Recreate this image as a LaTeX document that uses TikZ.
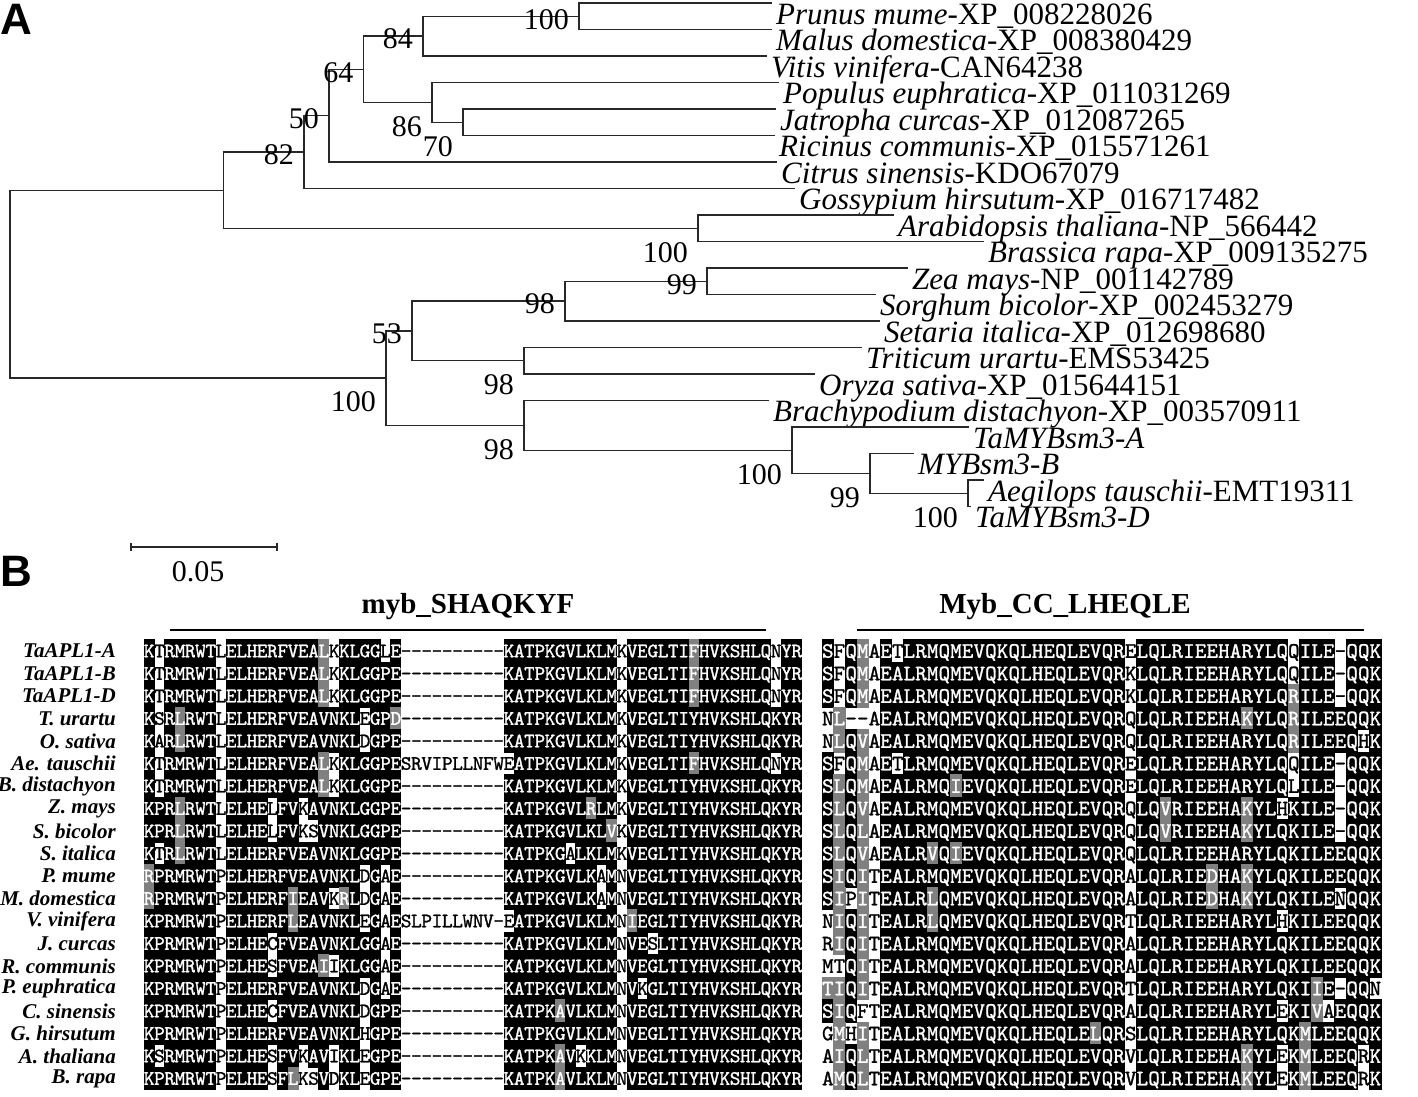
\documentclass[tikz,border=0pt]{standalone}
\usepackage{fontspec}
\setmainfont{Liberation Serif}
\newfontfamily\panelfont{Liberation Sans}
\newfontfamily\seqfamily[FakeBold=1.2]{lmmono10-regular.otf}
\usetikzlibrary{positioning}

\newcount\seqcol
\newif\ifseqgrey

\begin{document}
\begin{tikzpicture}[x=1pt, y=-1pt]
    \useasboundingbox (0,0) rectangle (1418,1096);
    \definecolor{branchcol}{RGB}{40,40,40}
    \definecolor{shadegrey}{RGB}{128,128,128}

    \tikzstyle{branch} = [draw=branchcol, line width=1.3pt]
    \tikzstyle{leaf} = [anchor=base west, inner sep=0pt, xshift=4pt, yshift=-21pt, font=\fontsize{31}{31}\selectfont]
    \tikzstyle{boot} = [anchor=east, inner sep=0pt, xshift=-10pt, font=\fontsize{30}{30}\selectfont]
    \tikzstyle{bootup} = [yshift=-3pt]
    \tikzstyle{bootdown} = [yshift=-24pt]
    \tikzstyle{panel} = [inner sep=0pt, font=\panelfont\bfseries\fontsize{44}{44}\selectfont]
    \tikzstyle{title} = [inner sep=0pt, font=\bfseries\fontsize{29}{29}\selectfont]
    \tikzstyle{rowname} = [anchor=east, inner sep=0pt, font=\bfseries\itshape\fontsize{21}{21}\selectfont]
    \tikzstyle{resl} = [inner sep=0pt, text height=12.5pt, text depth=0pt, font=\seqfamily\fontsize{20.5}{20.5}\selectfont]
    \tikzstyle{resr} = [inner sep=0pt, text height=13.5pt, text depth=0pt, font=\seqfamily\fontsize{22}{22}\selectfont]

    % one residue: lower case = white cell, * before = grey cell
    \def\seqcell#1{%
        \ifx#1-\def\cellbg{none}\def\celltxt{black}%
        \else\ifnum\lccode`#1=`#1 \def\cellbg{none}\def\celltxt{black}%
        \else\ifseqgrey\def\cellbg{shadegrey}\else\def\cellbg{black}\fi\def\celltxt{white}%
        \fi\fi
        \pgfmathsetmacro{\cx}{\seqx+\seqcol*\seqw}%
        \path[fill=\cellbg] (\cx-0.3,\ry-11.6) rectangle (\cx+\seqw+0.3,\ry+11.6);
        \node[\seqfont, text=\celltxt] (\seqblock-\r-\the\seqcol) at (\cx+\seqw/2,\ry) {\uppercase{#1}};%
    }
    \def\seqnext#1{%
        \ifx#1\relax\else
            \ifx#1*\seqgreytrue\else
                \seqcell{#1}\seqgreyfalse\advance\seqcol by 1
            \fi
            \expandafter\seqnext
        \fi}
    \def\seqrow#1#2#3#4#5{%
        \def\seqblock{#1}\def\seqx{#2}\def\seqw{#3}\def\seqfont{#4}%
        \seqcol=0 \seqgreyfalse
        \expandafter\seqnext#5\relax}

    % ---------- A: tree ----------
    \node[panel] (pA) at (16,19) {A};

    \foreach \i/\xe/\lab in {
        1/772/{\textit{Prunus mume}-XP\_008228026},
        2/772/{\textit{Malus domestica}-XP\_008380429},
        3/767/{\textit{Vitis vinifera}-CAN64238},
        4/779/{\textit{Populus euphratica}-XP\_011031269},
        5/776/{\textit{Jatropha curcas}-XP\_012087265},
        6/775/{\textit{Ricinus communis}-XP\_015571261},
        7/777/{\textit{Citrus sinensis}-KDO67079},
        8/795/{\textit{Gossypium hirsutum}-XP\_016717482},
        9/894/{\textit{Arabidopsis thaliana}-NP\_566442},
        10/984/{\textit{Brassica rapa}-XP\_009135275},
        11/908/{\textit{Zea mays}-NP\_001142789},
        12/876/{\textit{Sorghum bicolor}-XP\_002453279},
        13/880/{\textit{Setaria italica}-XP\_012698680},
        14/862/{\textit{Triticum urartu}-EMS53425},
        15/815/{\textit{Oryza sativa}-XP\_015644151},
        16/769/{\textit{Brachypodium distachyon}-XP\_003570911},
        17/969/{\textit{TaMYBsm3-A}},
        18/914/{\textit{MYBsm3-B}},
        19/984/{\textit{Aegilops tauschii}-EMT19311},
        20/971/{\textit{TaMYBsm3-D}}} {
        \pgfmathsetmacro{\ly}{3+26.5*(\i-1)}
        \coordinate (l\i) at (\xe,\ly);
        \node[leaf] (t\i) at (l\i) {\lab};
    }

    % inner nodes
    \coordinate (nA) at (10,284.1);
    \coordinate (nB) at (223.5,190.2);
    \coordinate (nC) at (304,152.1);
    \coordinate (nD) at (329,115.6);
    \coordinate (nE) at (363.5,69.3);
    \coordinate (nF) at (423,36.1);
    \coordinate (nH) at (579,16.3);
    \coordinate (nG) at (432,102.4);
    \coordinate (nI) at (463,122.3);
    \coordinate (nJ) at (698,228.3);
    \coordinate (nK) at (386,378.1);
    \coordinate (nL) at (412,330.9);
    \coordinate (nO) at (565,301.1);
    \coordinate (nQ) at (707,281.3);
    \coordinate (nP) at (524,360.8);
    \coordinate (nM) at (524,425.4);
    \coordinate (nN) at (792,450.2);
    \coordinate (nR) at (870,473.4);
    \coordinate (nS) at (968,493.3);

    \foreach \p/\c in {nA/nB, nA/nK, nB/nC, nB/nJ, nC/nD, nC/l8, nD/nE, nD/l7,
        nE/nF, nE/nG, nF/nH, nF/l3, nH/l1, nH/l2, nG/l4, nG/nI, nI/l5, nI/l6,
        nJ/l9, nJ/l10, nK/nL, nK/nM, nL/nO, nL/nP, nO/nQ, nO/l13, nQ/l11, nQ/l12,
        nP/l14, nP/l15, nM/l16, nM/nN, nN/l17, nN/nR, nR/l18, nR/nS, nS/l19, nS/l20}
        \draw[branch] (\p) |- (\c);

    % bootstrap values
    \foreach \n/\v/\s in {nH/100/up, nF/84/up, nE/64/up, nD/50/up, nC/82/up,
        nG/86/down, nI/70/down, nJ/100/down, nQ/99/up, nO/98/up, nL/53/up,
        nP/98/down, nK/100/down, nM/98/down, nN/100/down, nR/99/down, nS/100/down}
        \node[boot, boot\s] (bs-\n) at (\n) {\v};

    % scale bar
    \coordinate (sb1) at (131,547);
    \coordinate (sb2) at (277,547);
    \draw[branch] (sb1) -- (sb2);
    \draw[branch] ([yshift=4pt]sb1) -- ([yshift=-4pt]sb1);
    \draw[branch] ([yshift=4pt]sb2) -- ([yshift=-4pt]sb2);
    \node[inner sep=0pt, font=\fontsize{30}{30}\selectfont] (sbl) at (198,572) {0.05};

    % ---------- B: alignment ----------
    \node[panel] (pB) at (16,571) {B};
    \node[title] (ti-shaq) at (468,607) {myb\_SHAQKYF};
    \node[title] (ti-lheq) at (1065,607) {Myb\_CC\_LHEQLE};
    \coordinate (u1a) at (170,630);
    \coordinate (u1b) at (766,630);
    \coordinate (u2a) at (857,630);
    \coordinate (u2b) at (1364,630);
    \draw[line width=2.5pt] (u1a) -- (u1b);
    \draw[line width=2.5pt] (u2a) -- (u2b);

    \foreach \r/\name/\lseq/\rseq in {
        1/{TaAPL1-A}/KtRMRWTlELHERFVEA*LkKLGGlE----------KATPKGVLKLMkVEGLTI*FHVKSHLQnYR/SfQ*MaEtLRMQMEVQKQLHEQLEVQReLQLRIEEHARYLQqILE-QQK,
        2/{TaAPL1-B}/KtRMRWTlELHERFVEA*LkKLGGPE----------KATPKGVLKLMkVEGLTI*FHVKSHLQnYR/SfQ*MaEALRMQMEVQKQLHEQLEVQRkLQLRIEEHARYLQqILE-QQK,
        3/{TaAPL1-D}/KtRMRWTlELHERFVEA*LkKLGGPE----------KATPKGVLKLMkVEGLTI*FHVKSHLQnYR/SfQ*MaEALRMQMEVQKQLHEQLEVQRkLQLRIEEHARYLQ*RILE-QQK,
        4/{T. urartu}/KsR*LRWTlELHERFVEAVNKLeGP*D----------KATPKGVLKLMkVEGLTIYHVKSHLQKYR/n*L--aEALRMQMEVQKQLHEQLEVQRqLQLRIEEHA*KYLQ*RILEEQQK,
        5/{O. sativa}/KaR*LRWTlELHERFVEAVNKLdGPE----------KATPKGVLKLMkVEGLTIYHVKSHLQKYR/n*LQ*VaEALRMQMEVQKQLHEQLEVQRqLQLRIEEHARYLQ*RILEEQhK,
        6/{Ae. tauschii}/KtRMRWTlELHERFVEA*LkKLGGPEsrvipllnfweATPKGVLKLMkVEGLTI*FHVKSHLQnYR/SfQ*MaEtLRMQMEVQKQLHEQLEVQReLQLRIEEHARYLQqILE-QQK,
        7/{B. distachyon}/KtRMRWTlELHERFVEA*LkKLGGPE----------KATPKGVLKLMkVEGLTIYHVKSHLQKYR/S*LQ*MaEALRMQ*IEVQKQLHEQLEVQReLQLRIEEHARYLQlILE-QQK,
        8/{Z. mays}/KPR*LRWTlELHElFVkAVNKLGGPE----------KATPKGVL*RLMkVEGLTIYHVKSHLQKYR/S*LQ*VaEALRMQMEVQKQLHEQLEVQRqLQ*VRIEEHA*KYLhKILE-QQK,
        9/{S. bicolor}/KPR*LRWTlELHElFVksVNKLGGPE----------KATPKGVLKL*VkVEGLTIYHVKSHLQKYR/S*LQ*LaEALRMQMEVQKQLHEQLEVQRqLQ*VRIEEHA*KYLQKILE-QQK,
        10/{S. italica}/KtR*LRWTlELHERFVEAVNKLGGPE----------KATPKGaLKLMkVEGLTIYHVKSHLQKYR/S*LQ*VaEALR*VQ*IEVQKQLHEQLEVQRqLQLRIEEHARYLQKILEEQQK,
        11/{P. mume}/*RPRMRWTpELHERFVEAVNKLdGaE----------KATPKGVLKaMnVEGLTIYHVKSHLQKYR/S*IQ*ItEALRMQMEVQKQLHEQLEVQRaLQLRIE*DHA*KYLQKILEEQQK,
        12/{M. domestica}/*RPRMRWTpELHERF*IEAVk*RLdGaE----------KATPKGVLKaMnVEGLTIYHVKSHLQKYR/S*Ip*ItEALR*LQMEVQKQLHEQLEVQRaLQLRIE*DHA*KYLQKILEnQQK,
        13/{V. vinifera}/KPRMRWTpELHERF*LEAVNKLeGaEslpillwnv-eATPKGVLKLMn*IEGLTIYHVKSHLQKYR/n*IQ*ItEALR*LQMEVQKQLHEQLEVQRtLQLRIEEHARYLhKILEEQQK,
        14/{J. curcas}/KPRMRWTpELHEcFVEAVNKLGGaE----------KATPKGVLKLMnVEsLTIYHVKSHLQKYR/r*IQ*ItEALRMQMEVQKQLHEQLEVQRaLQLRIEEHARYLQKILEEQQK,
        15/{R. communis}/KPRMRWTpELHEsFVEA*IiKLGGaE----------KATPKGVLKLMnVEGLTIYHVKSHLQKYR/mtQ*ItEALRMQMEVQKQLHEQLEVQRaLQLRIEEHARYLQKILEEQQK,
        16/{P. euphratica}/KPRMRWTpELHERFVEAVNKLdGaE----------KATPKGVLKLMnVkGLTIYHVKSHLQKYR/*T*IQ*ItEALRMQMEVQKQLHEQLEVQRtLQLRIEEHARYLQKI*IE-QQn,
        17/{C. sinensis}/KPRMRWTpELHEcFVEAVNKLdGPE----------KATPK*AVLKLMnVEGLTIYHVKSHLQKYR/S*IQftEALRMQMEVQKQLHEQLEVQRaLQLRIEEHARYLeKI*VaEQQK,
        18/{G. hirsutum}/KPRMRWTpELHERFVEAVNKLhGPE----------KATPKGVLKLMnVEGLTIYHVKSHLQKYR/g*Mh*ItEALRMQMEVQKQLHEQLE*LQRsLQLRIEEHARYLQK*MLEEQQK,
        19/{A. thaliana}/KsRMRWTpELHEsFVkAViKLeGPE----------KATPK*AVkKLMnVEGLTIYHVKSHLQKYR/a*IQ*LtEALRMQMEVQKQLHEQLEVQRvLQLRIEEHA*KYLeK*MLEEQrK,
        20/{B. rapa}/KPRMRWTpELHEsF*LksVdKLeGPE----------KATPK*AVLKLMnVEGLTIYHVKSHLQKYR/a*MQ*LtEALRMQMEVQKQLHEQLEVQRvLQLRIEEHA*KYLeK*MLEEQrK} {
        \pgfmathsetmacro{\ry}{651+22.5*(\r-1)}
        \node[rowname] (name-\r) at (116,\ry) {\name};
        \seqrow{L}{144}{10.28}{resl}{\lseq}
        \seqrow{R}{822}{11.65}{resr}{\rseq}
    }
\end{tikzpicture}
\end{document}
